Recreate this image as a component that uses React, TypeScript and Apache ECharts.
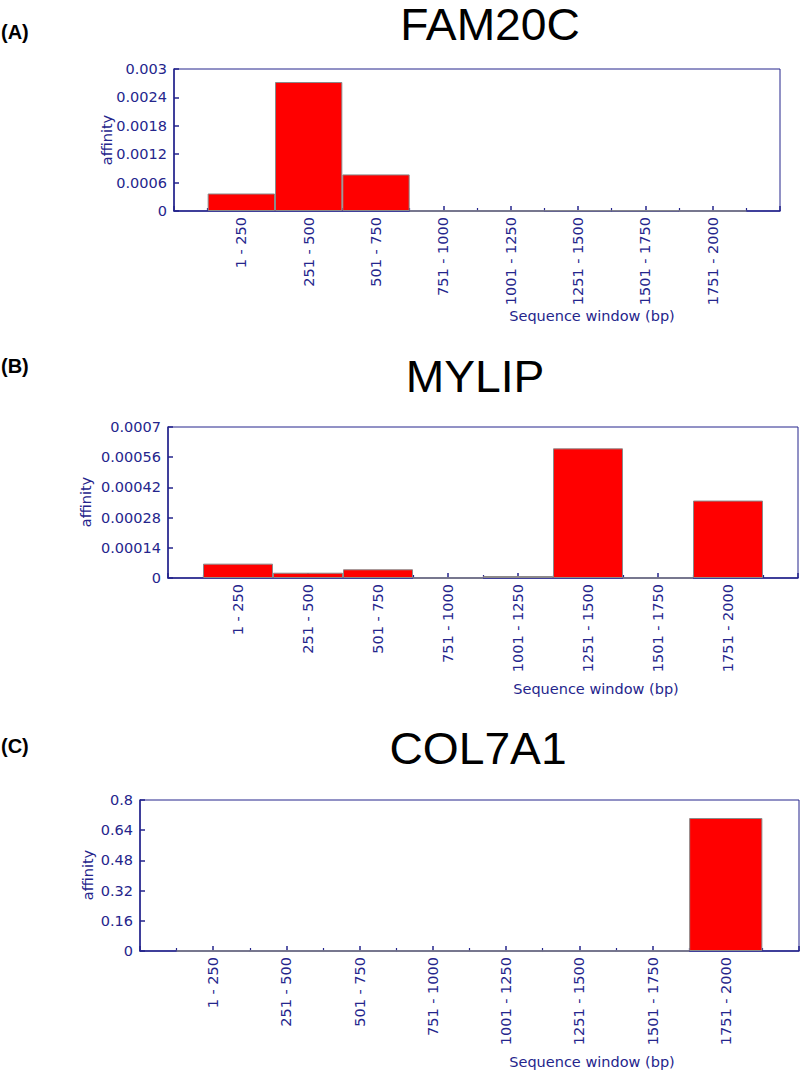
import React, { useEffect, useRef } from "react";
import * as echarts from "echarts";

const windows = ["1 - 250", "251 - 500", "501 - 750", "751 - 1000", "1001 - 1250", "1251 - 1500", "1501 - 1750", "1751 - 2000"];
const fam20c = [0.00037, 0.002725, 0.000773, 0, 0, 0.000008, 0.000008, 0];
const mylip = [0.0000665, 0.0000246, 0.0000404, 0, 0.000009, 0.000601, 0, 0.000359];
const col7a1 = [0, 0, 0, 0, 0, 0, 0, 0.7046];
const titles = ["FAM20C", "MYLIP", "COL7A1"];
const panelTags = ["(A)", "(B)", "(C)"];
const yMax = [0.003, 0.0007, 0.8];
const yStep = [0.0006, 0.00014, 0.16];

const NAVY = "#25258c";
const AXFONT = "DejaVu Sans";
const AXSIZE = 14.5;

export default function App() {
  const ref = useRef<HTMLDivElement>(null);
  useEffect(() => {
    document.body.style.margin = "0";
    const chart = echarts.init(ref.current!, undefined, { renderer: "svg" });
    const grids = [
      { left: 174, top: 69, width: 606, height: 142 },
      { left: 168, top: 427, width: 630, height: 151 },
      { left: 140, top: 800, width: 659, height: 151 },
    ];
    const titlePos = [
      { x: 490, y: 25 },
      { x: 475, y: 377 },
      { x: 478, y: 749 },
    ];
    const tagY = [32, 366, 746];
    const xNamePos = [
      { x: 592, y: 316 },
      { x: 596, y: 689 },
      { x: 592, y: 1062 },
    ];
    const yNamePos = [
      { x: 107, y: 140 },
      { x: 86, y: 502 },
      { x: 88, y: 875 },
    ];
    const seriesData = [fam20c, mylip, col7a1];

    const graphic: any[] = [];
    for (let i = 0; i < 3; i++) {
      graphic.push({
        type: "text",
        x: titlePos[i].x,
        y: titlePos[i].y,
        scaleX: 1.05,
        style: { text: titles[i], fontFamily: "Liberation Sans", fontSize: 44, fill: "#000", textAlign: "center", textVerticalAlign: "middle" },
      });
      graphic.push({
        type: "text",
        x: 1,
        y: tagY[i],
        style: { text: panelTags[i], fontFamily: "Liberation Sans", fontWeight: "bold", fontSize: 20, fill: "#000", textAlign: "left", textVerticalAlign: "middle" },
      });
      graphic.push({
        type: "text",
        x: xNamePos[i].x,
        y: xNamePos[i].y,
        style: { text: "Sequence window (bp)", fontFamily: AXFONT, fontSize: AXSIZE, fill: NAVY, textAlign: "center", textVerticalAlign: "middle" },
      });
      graphic.push({
        type: "text",
        x: yNamePos[i].x,
        y: yNamePos[i].y,
        rotation: Math.PI / 2,
        style: { text: "affinity", fontFamily: AXFONT, fontSize: AXSIZE, fill: NAVY, textAlign: "center", textVerticalAlign: "middle" },
      });
    }

    const option: any = {
      animation: false,
      backgroundColor: "#fff",
      grid: grids.map((g) => ({ ...g, show: true, borderColor: NAVY, borderWidth: 1, backgroundColor: "transparent" })),
      xAxis: grids.map((_, i) => ({
        type: "value",
        gridIndex: i,
        min: 0,
        max: 9,
        interval: 1,
        axisLine: { show: true, onZero: false, lineStyle: { color: NAVY, width: 1.5 } },
        axisTick: { show: true, inside: true, length: 5, lineStyle: { color: NAVY, width: 1.5 } },
        minorTick: { show: true, splitNumber: 2, length: 3, lineStyle: { color: NAVY, width: 1.2 } },
        splitLine: { show: false },
        axisLabel: {
          rotate: 90,
          margin: 6,
          fontSize: AXSIZE,
          fontFamily: AXFONT,
          color: NAVY,
          formatter: (v: number) => (Number.isInteger(v) && v >= 1 && v <= windows.length ? windows[v - 1] : ""),
        },
      })),
      yAxis: grids.map((_, i) => ({
        type: "value",
        gridIndex: i,
        min: 0,
        max: yMax[i],
        interval: yStep[i],
        axisLine: { show: true, lineStyle: { color: NAVY, width: 1.5 } },
        axisTick: { show: true, inside: true, length: 5, lineStyle: { color: NAVY, width: 1.5 } },
        splitLine: { show: false },
        axisLabel: {
          margin: 7,
          fontSize: AXSIZE,
          fontFamily: AXFONT,
          color: NAVY,
          formatter: (v: number) => String(+v.toFixed(8)),
        },
      })),
      series: seriesData.map((arr, i) => ({
        type: "bar",
        xAxisIndex: i,
        yAxisIndex: i,
        barWidth: "100%",
        z: 1,
        itemStyle: { color: "#ff0000", borderColor: "#8a8a8a", borderWidth: 1 },
        data: arr.map((v, k) => [k + 1, v]),
      })),
      graphic,
    };
    chart.setOption(option);
    return () => chart.dispose();
  }, []);
  return <div ref={ref} style={{ width: 800, height: 1070 }} />;
}
